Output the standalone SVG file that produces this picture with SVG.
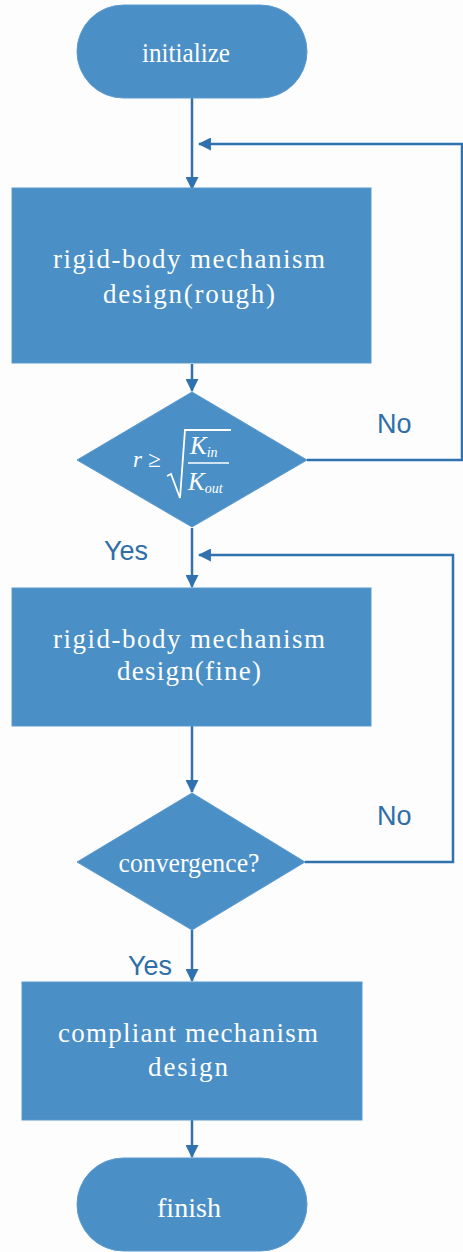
<svg xmlns="http://www.w3.org/2000/svg" width="463" height="1252" viewBox="0 0 463 1252">
<style>
.sh{fill:#4a8fc6;stroke:#5b9bd0;stroke-width:1}
.t{font-family:"Liberation Serif","Times New Roman",serif;fill:#ffffff;font-size:27px;text-anchor:middle}
.lb{font-family:"Liberation Sans",Arial,sans-serif;fill:#2f6ea8;font-size:27px}
.c{fill:none;stroke:#2f72ad;stroke-width:2.5}
.m{font-family:"Liberation Serif","Times New Roman",serif;fill:#ffffff;font-style:italic}
</style>
<defs>
<marker id="ah" viewBox="0 0 12 12" refX="11" refY="6" markerWidth="13" markerHeight="13" markerUnits="userSpaceOnUse" orient="auto">
<path d="M0,0 L12,6 L0,12 z" fill="#2f72ad"/>
</marker>
</defs>
<rect width="463" height="1252" fill="#fdfdfd"/>
<g id="connectors">
<line class="c" x1="192" y1="98" x2="192" y2="189" marker-end="url(#ah)"/>
<polyline class="c" points="307,460 462,460 462,144 199,144" marker-end="url(#ah)"/>
<line class="c" x1="192" y1="364" x2="192" y2="391" marker-end="url(#ah)"/>
<line class="c" x1="192" y1="528" x2="192" y2="587" marker-end="url(#ah)"/>
<polyline class="c" points="305,862 453,862 453,555 199,555" marker-end="url(#ah)"/>
<line class="c" x1="192" y1="726" x2="192" y2="792" marker-end="url(#ah)"/>
<line class="c" x1="192" y1="930" x2="192" y2="981" marker-end="url(#ah)"/>
<line class="c" x1="192" y1="1120" x2="192" y2="1157" marker-end="url(#ah)"/>
<text class="lb" x="377" y="433">No</text>
<text class="lb" x="104" y="560">Yes</text>
<text class="lb" x="377" y="825">No</text>
<text class="lb" x="128" y="975">Yes</text>
</g>
<g id="initialize">
<rect class="sh" x="77" y="5" width="230" height="93" rx="46.5"/>
<text class="t" x="186" y="62" font-size="29" textLength="88" lengthAdjust="spacingAndGlyphs">initialize</text>
</g>
<g id="rough">
<rect class="sh" x="12" y="188" width="359" height="175"/>
<text class="t" x="189" y="268" textLength="272" lengthAdjust="spacing">rigid-body mechanism</text>
<text class="t" x="189" y="303" textLength="172" lengthAdjust="spacing">design(rough)</text>
</g>
<g id="check1">
<polygon class="sh" points="192,392 307,460 192,527 77,460"/>
<text class="m" x="133" y="467" font-size="23">r</text>
<text class="m" x="148" y="467" font-size="23" font-style="normal">≥</text>
<polyline points="167,476 171,474 180,498 185,430 231,430" fill="none" stroke="#ffffff" stroke-width="1.8"/>
<text class="m" x="190" y="454" font-size="25">K<tspan font-size="14" dy="3">in</tspan></text>
<line x1="188" y1="463" x2="229" y2="463" stroke="#ffffff" stroke-width="1.6"/>
<text class="m" x="188" y="490" font-size="25">K<tspan font-size="14" dy="3">out</tspan></text>
</g>
<g id="fine">
<rect class="sh" x="12" y="588" width="359" height="138"/>
<text class="t" x="189" y="648" textLength="272" lengthAdjust="spacing">rigid-body mechanism</text>
<text class="t" x="189" y="680" textLength="144" lengthAdjust="spacing">design(fine)</text>
</g>
<g id="check2">
<polygon class="sh" points="192,793 305,862 192,930 77,862"/>
<text class="t" x="189" y="872" textLength="141" lengthAdjust="spacingAndGlyphs">convergence?</text>
</g>
<g id="compliant">
<rect class="sh" x="22" y="982" width="340" height="138"/>
<text class="t" x="188" y="1042" textLength="260" lengthAdjust="spacing">compliant mechanism</text>
<text class="t" x="188" y="1076" textLength="80" lengthAdjust="spacing">design</text>
</g>
<g id="finish">
<rect class="sh" x="77" y="1158" width="230" height="93" rx="46.5"/>
<text class="t" x="189" y="1217" font-size="30" textLength="64" lengthAdjust="spacingAndGlyphs">finish</text>
</g>
</svg>
